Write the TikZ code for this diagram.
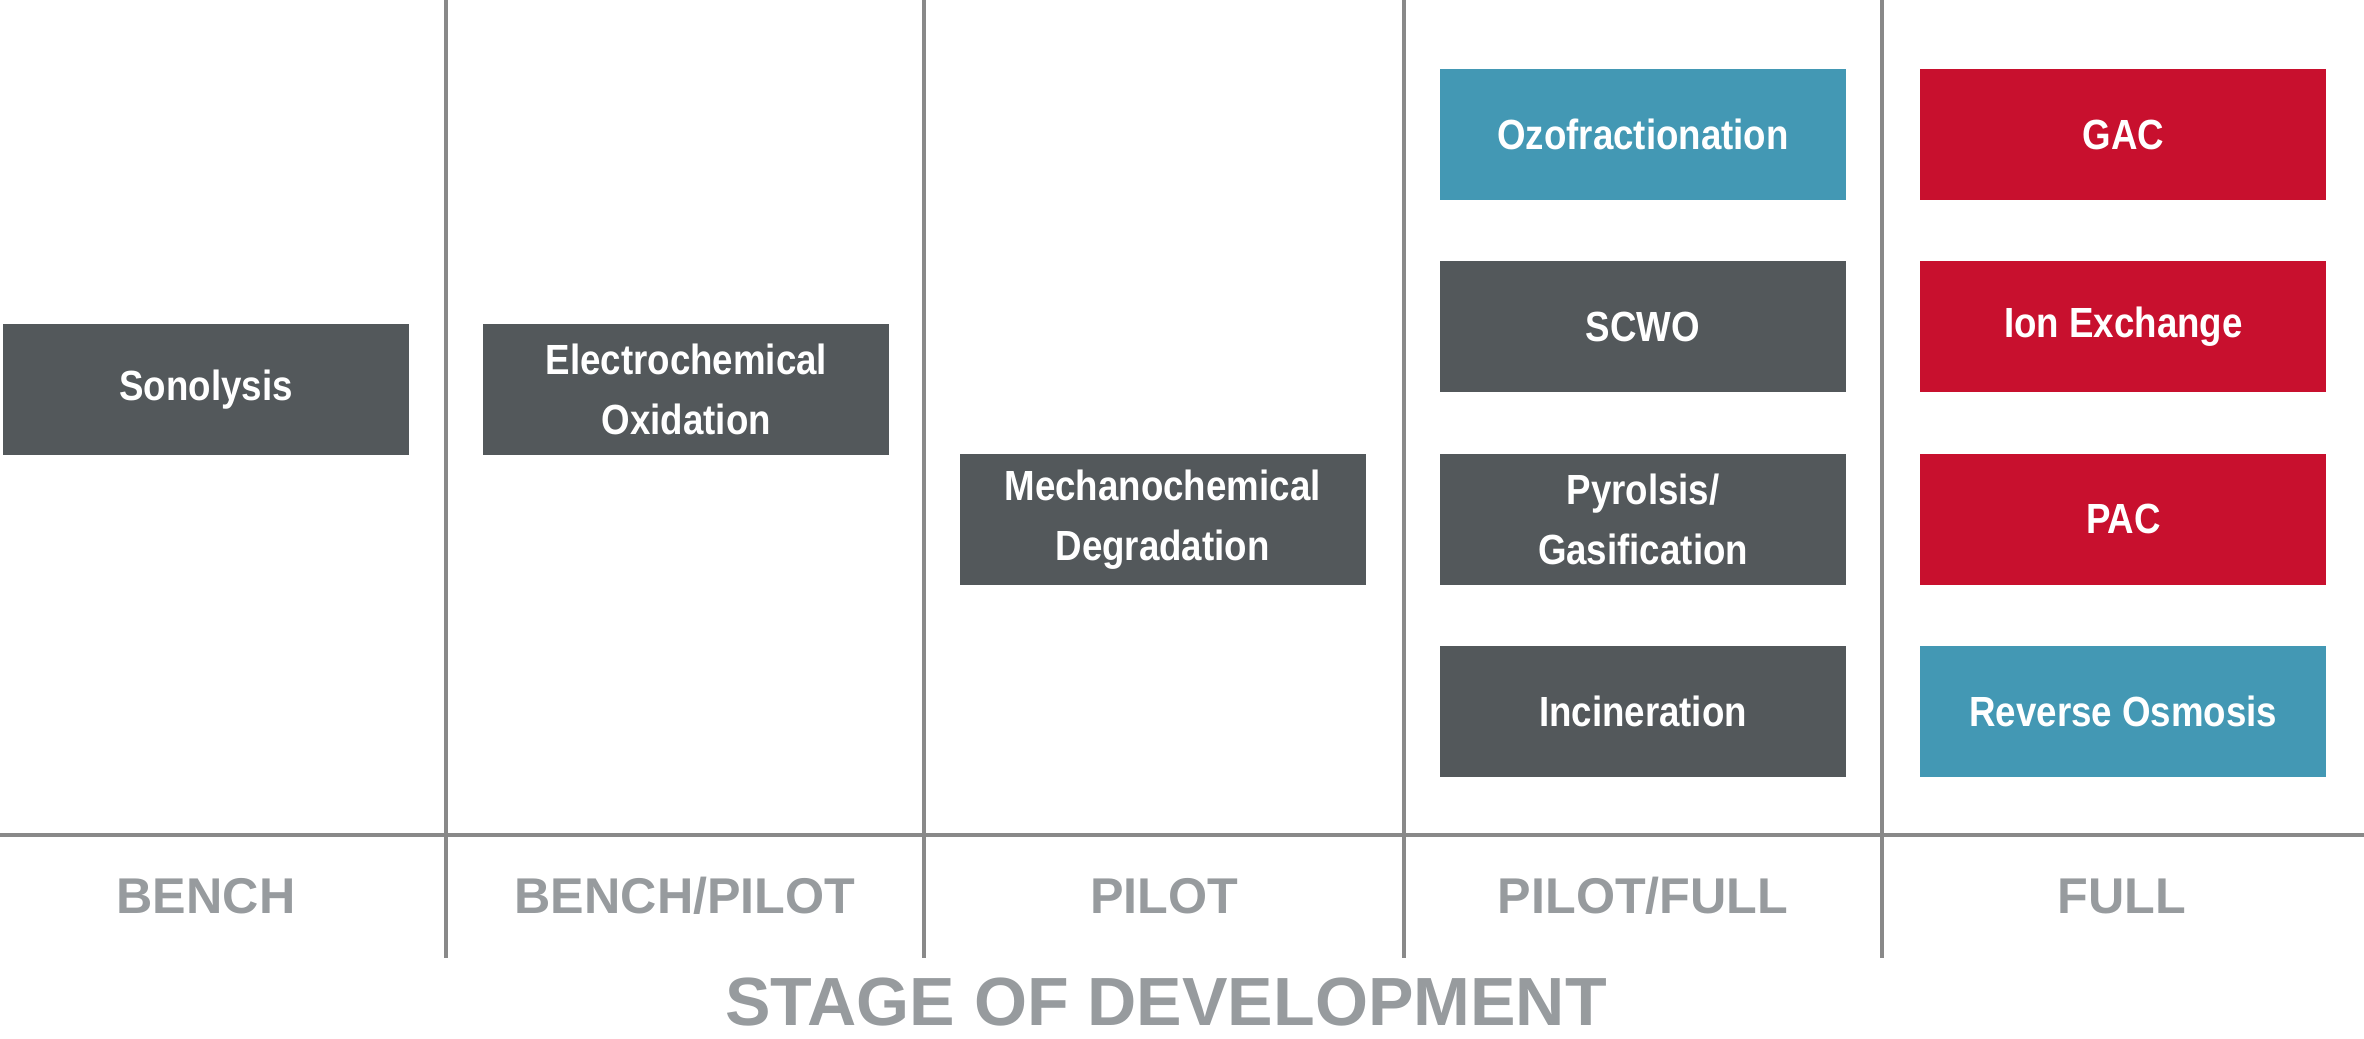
\documentclass[tikz,border=0pt]{standalone}
\usepackage{fontspec}
\setmainfont{Liberation Sans}
\newfontfamily\narrowsans[FakeStretch=0.87]{Liberation Sans}
\usepackage{tikz}
\usetikzlibrary{positioning}
\definecolor{pfas-slate}{RGB}{83, 88, 91}
\definecolor{pfas-teal}{RGB}{67, 152, 180}
\definecolor{pfas-red}{RGB}{200, 16, 46}
\definecolor{pfas-rule}{RGB}{137, 137, 137}
\definecolor{pfas-label}{RGB}{151, 155, 158}

\begin{document}
\begin{tikzpicture}[
    box/.style={rectangle, minimum width=4.06cm, minimum height=1.31cm,
                inner sep=0pt, align=center, text=white,
                font=\narrowsans\bfseries\fontsize{12}{17}\selectfont},
    rule/.style={line width=1.1pt, color=pfas-rule},
    stage/.style={anchor=base, text=pfas-label,
                  font=\bfseries\fontsize{14.3}{17}\selectfont},
    node distance=0.6cm and 0.73cm
  ]
    \useasboundingbox (0,0) rectangle (23.64,10.38);

    % axis and column dividers
    \draw[rule, line width=1.4pt] (0,2.03) -- (23.64,2.03);
    \draw[rule] (4.46,10.38) -- (4.46,0.80);
    \draw[rule] (9.24,10.38) -- (9.24,0.80);
    \draw[rule] (14.04,10.38) -- (14.04,0.80);
    \draw[rule] (18.82,10.38) -- (18.82,0.80);

    % technologies
    \node[box, fill=pfas-slate] (sono) at (2.06,6.485) {Sonolysis};
    \node[box, fill=pfas-slate, right=of sono] (echem) {Electrochemical\\Oxidation};

    \node[box, fill=pfas-teal] (ozo) at (16.43,9.035) {Ozofractionation};
    \node[box, fill=pfas-slate, below=of ozo]  (scwo) {SCWO};
    \node[box, fill=pfas-slate, below=of scwo] (pyro) {Pyrolsis/\\Gasification};
    \node[box, fill=pfas-slate, below=of pyro] (incin) {Incineration};
    \node[box, fill=pfas-slate, left=of pyro]  (mech) {Mechanochemical\\Degradation};

    \node[box, fill=pfas-red,  right=of ozo]   (gac) {GAC};
    \node[box, fill=pfas-red,  right=of scwo]  (ix)  {Ion Exchange};
    \node[box, fill=pfas-red,  right=of pyro]  (pac) {PAC};
    \node[box, fill=pfas-teal, right=of incin] (ro)  {Reverse Osmosis};

    % stages
    \node[stage] (bench)  at (2.06,1.25)  {BENCH};
    \node[stage] (benchp) at (6.85,1.25)  {BENCH/PILOT};
    \node[stage] (pilot)  at (11.64,1.25) {PILOT};
    \node[stage] (pilotf) at (16.43,1.25) {PILOT/FULL};
    \node[stage] (full)   at (21.22,1.25) {FULL};

    \node[anchor=base, inner sep=0pt, text=pfas-label,
          font=\bfseries\fontsize{19.4}{23}\selectfont] (axis) at (11.66,0.13)
          {STAGE OF DEVELOPMENT};
\end{tikzpicture}
\end{document}
